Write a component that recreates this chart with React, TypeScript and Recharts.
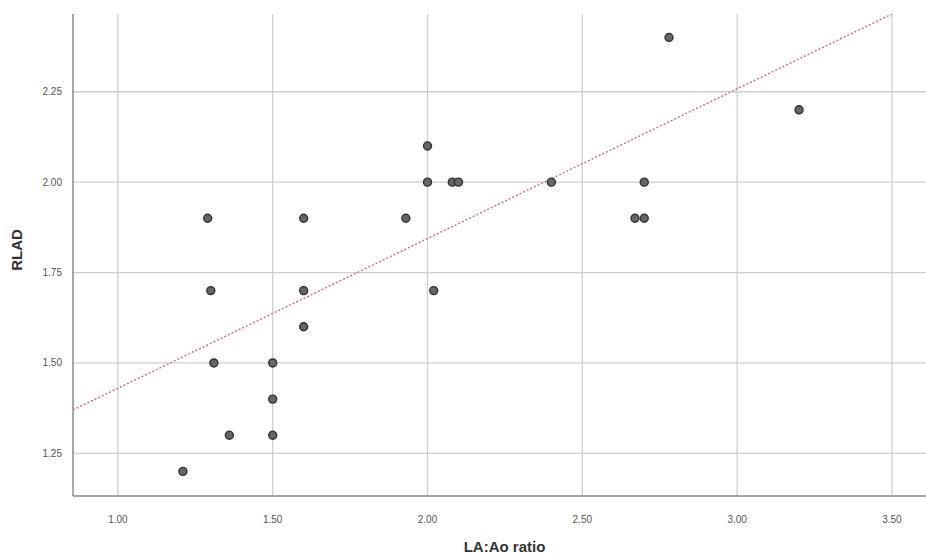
import { ScatterChart, Scatter, XAxis, YAxis, ReferenceLine } from "recharts";

const laAo = [1.21, 1.29, 1.3, 1.31, 1.36, 1.5, 1.5, 1.5, 1.6, 1.6, 1.6, 1.93, 2.0, 2.0, 2.02, 2.08, 2.1, 2.4, 2.67, 2.7, 2.7, 2.78, 3.2];
const rlad = [1.2, 1.9, 1.7, 1.5, 1.3, 1.5, 1.4, 1.3, 1.9, 1.7, 1.6, 1.9, 2.1, 2.0, 1.7, 2.0, 2.0, 2.0, 1.9, 1.9, 2.0, 2.4, 2.2];

// fit line: RLAD = intercept + slope * ratio
const fitSlope = 0.414;
const fitIntercept = 1.016;
const fitRange = [0.855, 3.5];

const xTicks = [1.0, 1.5, 2.0, 2.5, 3.0, 3.5];
const yTicks = [1.25, 1.5, 1.75, 2.0, 2.25];

const points = laAo.map((x, i) => ({ x, y: rlad[i] }));
const fitLine = fitRange.map((x) => ({ x, y: fitIntercept + fitSlope * x }));

const font = "'Liberation Sans', Arial, sans-serif";
const gridColor = "#cfcfcf";

const Dot = (props: any) => (
  <circle cx={props.cx} cy={props.cy} r={4} fill="#666" stroke="#333" strokeWidth={1.4} />
);

const YLabel = () => (
  <text
    x={22}
    y={250}
    transform="rotate(-90, 22, 250)"
    textAnchor="middle"
    fill="#333"
    fontSize={15}
    fontWeight="bold"
    fontFamily={font}
  >
    RLAD
  </text>
);

export default function App() {
  return (
    <div style={{ position: "absolute", left: 0, top: 0, width: 926, height: 555, background: "#fff", fontFamily: font }}>
      <ScatterChart width={926} height={555} margin={{ top: 14, right: 0, bottom: 0, left: 0 }}>
        {yTicks.map((t) => (
          <ReferenceLine key={"h" + t} y={t} stroke={gridColor} strokeWidth={1.3} />
        ))}
        {xTicks.map((t) => (
          <ReferenceLine key={"v" + t} x={t} stroke={gridColor} strokeWidth={1.3} />
        ))}
        <XAxis
          type="number"
          dataKey="x"
          domain={[0.855, 3.61]}
          allowDataOverflow
          ticks={xTicks}
          tickFormatter={(v: number) => v.toFixed(2)}
          tickLine={false}
          axisLine={{ stroke: "#8a8a8a", strokeWidth: 1.5 }}
          tick={{ fill: "#555", fontSize: 10, fontFamily: font }}
          tickMargin={14}
          height={59}
          label={{ value: "LA:Ao ratio", position: "insideBottom", offset: 3, dx: 5, fill: "#333", fontSize: 15, fontWeight: "bold", fontFamily: font }}
        />
        <YAxis
          type="number"
          dataKey="y"
          domain={[1.132, 2.465]}
          allowDataOverflow
          ticks={yTicks}
          tickFormatter={(v: number) => v.toFixed(2)}
          tickLine={false}
          axisLine={{ stroke: "#8a8a8a", strokeWidth: 1.5 }}
          tick={{ fill: "#555", fontSize: 10, fontFamily: font }}
          tickMargin={5}
          width={73}
          label={<YLabel />}
        />
        <Scatter
          data={fitLine}
          line={{ stroke: "#c8707a", strokeWidth: 1.4, strokeDasharray: "2 2" }}
          shape={() => null}
          isAnimationActive={false}
        />
        <Scatter data={points} shape={Dot} isAnimationActive={false} />
      </ScatterChart>
    </div>
  );
}
